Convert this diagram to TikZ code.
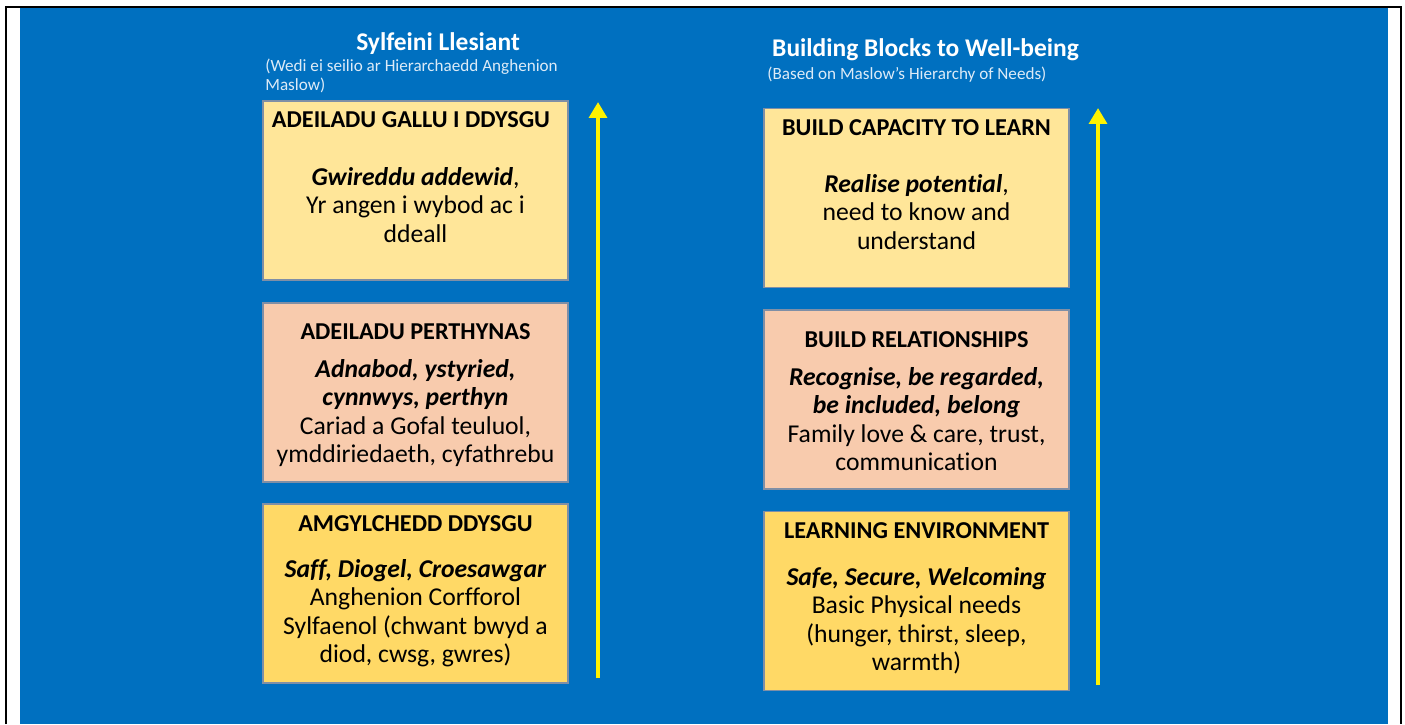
\documentclass[tikz,border=0pt]{standalone}
\usepackage{fontspec}
\setmainfont{Carlito}[Ligatures=NoCommon]
\usetikzlibrary{arrows.meta}
\definecolor{bgblue}{HTML}{0070C0}
\definecolor{paleyellow}{HTML}{FFE699}
\definecolor{peach}{HTML}{F8CBAD}
\definecolor{gold}{HTML}{FFD966}
\definecolor{boxline}{HTML}{7F8FA6}
\definecolor{subtext}{HTML}{DDEBF7}
\begin{document}
\begin{tikzpicture}[x=0.02cm,y=-0.02cm,
    box/.style={draw=boxline,line width=0.6pt,minimum width=305*0.02cm,minimum height=179*0.02cm,inner sep=0pt},
    boxtitle/.style={anchor=base,font=\fontsize{13.8}{16.2}\selectfont\bfseries},
    boxbody/.style={anchor=north,inner sep=0pt,align=center,font=\fontsize{14.6}{16.2}\selectfont},
    heading/.style={anchor=base,text=white,font=\fontsize{14.5}{16}\selectfont\bfseries},
    subhead/.style={inner sep=0pt,align=left,text=subtext,font=\fontsize{9.75}{10.8}\selectfont},
    uparrow/.style={draw=yellow,line width=2.4pt,-{Triangle[width=10pt,length=9pt]}}]
    \useasboundingbox (0,0) rectangle (1405,724);
    \fill[white] (0,0) rectangle (1405,724);
    \fill[bgblue] (20,8) rectangle (1388,724);
    \draw[line width=1.2pt] (6,724) -- (6,7) -- (1401,7) -- (1401,724);

    % Welsh column
    \node[heading] (cyhead) at (438,50) {Sylfeini Llesiant};
    \node[subhead,anchor=north west] (cysub) at (265,59) {(Wedi ei seilio ar Hierarchaedd Anghenion\\Maslow)};
    \node[box,fill=paleyellow] (cy3) at (415.5,190.5) {};
    \node[box,fill=peach] (cy2) at (415.5,392.5) {};
    \node[box,fill=gold] (cy1) at (415.5,593.5) {};
    \node[boxtitle] (cy3t) at (411,127.5) {ADEILADU GALLU I DDYSGU};
    \node[boxbody] (cy3b) at (415.5,167) {\textbf{\textit{Gwireddu addewid}},\\Yr angen i wybod ac i\\ddeall};
    \node[boxtitle] (cy2t) at (415.5,339.5) {ADEILADU PERTHYNAS};
    \node[boxbody] (cy2b) at (415.5,359) {\textbf{\textit{Adnabod, ystyried,}}\\\textbf{\textit{cynnwys, perthyn}}\\Cariad a Gofal teuluol,\\ymddiriedaeth, cyfathrebu};
    \node[boxtitle] (cy1t) at (415.5,531.5) {AMGYLCHEDD DDYSGU};
    \node[boxbody] (cy1b) at (415.5,559) {\textbf{\textit{Saff, Diogel, Croesawgar}}\\Anghenion Corfforol\\Sylfaenol (chwant bwyd a\\diod, cwsg, gwres)};
    \coordinate (cylow) at (598,678);
    \coordinate (cytop) at (598,102);
    \draw[uparrow] (cylow) -- (cytop);

    % English column
    \node[heading] (enhead) at (925.5,56) {Building Blocks to Well-being};
    \node[subhead,anchor=base west] (ensub) at (767,79) {(Based on Maslow's Hierarchy of Needs)};
    \node[box,fill=paleyellow] (en3) at (916.5,198) {};
    \node[box,fill=peach] (en2) at (916.5,399.5) {};
    \node[box,fill=gold] (en1) at (916.5,601) {};
    \node[boxtitle] (en3t) at (916.5,135.5) {BUILD CAPACITY TO LEARN};
    \node[boxbody] (en3b) at (916.5,174) {\textbf{\textit{Realise potential}},\\need to know and\\understand};
    \node[boxtitle] (en2t) at (916.5,347.5) {BUILD RELATIONSHIPS};
    \node[boxbody] (en2b) at (916.5,367) {\textbf{\textit{Recognise, be regarded,}}\\\textbf{\textit{be included, belong}}\\Family love \& care, trust,\\communication};
    \node[boxtitle] (en1t) at (916.5,538.5) {LEARNING ENVIRONMENT};
    \node[boxbody] (en1b) at (916.5,567) {\textbf{\textit{Safe, Secure, Welcoming}}\\Basic Physical needs\\(hunger, thirst, sleep,\\warmth)};
    \coordinate (enlow) at (1098,685);
    \coordinate (entop) at (1098,108);
    \draw[uparrow] (enlow) -- (entop);
\end{tikzpicture}
\end{document}
